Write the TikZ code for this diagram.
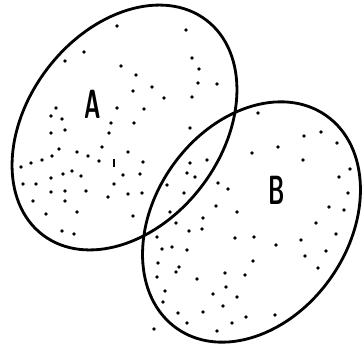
\documentclass[tikz,border=0pt]{standalone}
\usepackage{fontspec}
\usetikzlibrary{positioning}

\begin{document}
\begin{tikzpicture}[x=0.025cm, y=0.025cm,
    setline/.style={line width=2pt},
    setname/.style={font=\sffamily\bfseries\fontsize{29}{29}\selectfont, xscale=0.55}]
  \useasboundingbox (0,0) rectangle (364,345);
  % the two sets
  \draw[setline] (124.5,217.5) ellipse [x radius=135, y radius=97, rotate=52.7];
  \draw[setline] (251.5,123) ellipse [x radius=130, y radius=97, rotate=55];
  % stipple
  \foreach \x/\y in {117/26,186/30,84/52,65/61,192/58,121/66,199/69,136/75,198/83,217/84,
      152/87,133/91,164/98,192/97,56/108,117/108,144/109,51/116,62/119,111/123,134/123,
      190/128,65/130,51/133,109/133,59/149,102/147,77/152,128/152,52/156,88/156,42/160,
      99/161,31/163,143/162,21/167,190/163,207/160,63/174,72/171,81/176,123/175,140/174,
      187/173,195/177,51/178,23/184,36/184,114/184,167/185,218/183,51/192,65/191,86/191,
      128/194,142/193,184/193,228/189,108/197,33/201,65/201,216/206,237/212,46/214,77/212,
      133/216,203/218,202/229,170/212,176/223,62/231,74/234,189/231,157/237,162/249,
      172/247,187/250,158/263,179/267}
    \fill (\x,{345-\y}) circle (1.9);
  \foreach \x/\y in {258/113,304/136,321/132,337/143,278/147,252/153,303/160,350/169,
      339/177,348/193,329/207,344/210,316/223,235/238,254/237,336/234,276/245,301/240,
      326/251,305/256,176/272,253/261,318/268,225/273,245/275,157/277,197/279,226/287,
      165/291,213/294,237/297,163/302,223/306,178/313,203/312,246/317,275/315,187/323,
      232/323,217/331,154/329}
    \fill (\x,{345-\y}) circle (1.9);
  \draw[line width=1.5pt] (114,{345-159}) -- (114,{345-167});
  % labels
  \node[setname] (labA) at (93,241) {A};
  \node[setname] (labB) at (277,155) {B};
\end{tikzpicture}
\end{document}
